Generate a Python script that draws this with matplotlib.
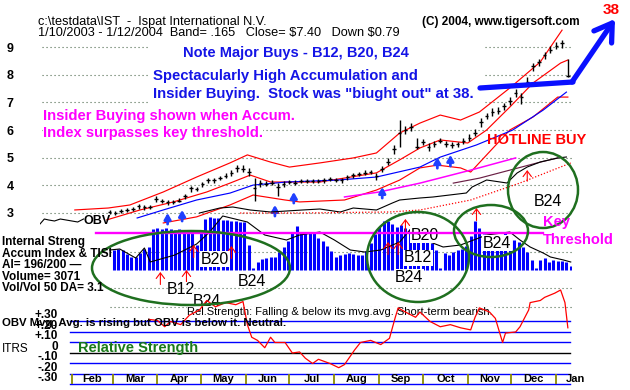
import numpy as np
import matplotlib
matplotlib.use("Agg")
import matplotlib.pyplot as plt
from matplotlib.patches import Ellipse

plt.rcParams['font.family'] = ['Liberation Sans', 'DejaVu Sans']

# ---------------- data (days counted from 1/10/2003) ----------------
bar_days = np.arange(48, 365, 4)
close = [3.04, 3.00, 3.08, 3.12, 3.15, 3.25, 3.20, 3.22,
         3.50, 3.45, 3.38, 3.40, 3.45, 3.60, 3.90, 3.85, 4.05, 4.20,
         4.18, 4.26, 4.35, 4.45, 4.63, 4.60, 4.50, 3.90, 4.08, 4.05,
         4.10, 3.95, 4.05, 4.12, 4.10, 4.15, 4.16, 4.15, 4.16, 4.18,
         4.22, 4.20, 4.19, 4.30, 4.37, 4.42, 4.45, 4.48, 4.35, 4.60,
         4.85, 5.30, 5.90, 6.00, 6.10, 5.40, 5.55, 5.40, 5.50, 5.62,
         5.50, 5.45, 5.48, 5.60, 5.72, 5.90, 6.30, 6.50, 6.65, 6.70,
         6.85, 7.05, 7.35, 7.20, 7.75, 8.30, 8.45, 8.70, 8.90, 9.05,
         9.15, 7.95]
high = [3.10, 3.08, 3.14, 3.18, 3.22, 3.32, 3.28, 3.30,
        3.60, 3.52, 3.46, 3.48, 3.55, 3.70, 3.98, 3.95, 4.12, 4.28,
        4.26, 4.34, 4.45, 4.55, 4.75, 4.72, 4.62, 4.25, 4.18, 4.14,
        4.18, 4.08, 4.14, 4.20, 4.18, 4.22, 4.24, 4.22, 4.24, 4.26,
        4.30, 4.28, 4.27, 4.38, 4.45, 4.50, 4.54, 4.56, 4.45, 4.70,
        4.98, 5.45, 6.35, 6.15, 6.25, 5.70, 5.66, 5.52, 5.60, 5.72,
        5.60, 5.56, 5.58, 5.72, 5.85, 6.05, 6.42, 6.62, 6.80, 6.82,
        6.98, 7.18, 7.48, 7.34, 7.90, 8.42, 8.56, 8.82, 9.02, 9.18,
        9.25, 8.55]
low = [2.98, 2.94, 3.00, 3.05, 3.08, 3.15, 3.12, 3.15,
       3.40, 3.36, 3.30, 3.32, 3.38, 3.50, 3.75, 3.78, 3.95, 4.10,
       4.08, 4.18, 4.26, 4.35, 4.50, 4.50, 4.35, 3.45, 3.95, 3.96,
       4.00, 3.60, 3.95, 4.04, 4.02, 4.08, 4.08, 4.07, 4.08, 4.10,
       4.14, 4.12, 4.10, 4.20, 4.28, 4.33, 4.37, 4.40, 4.20, 4.48,
       4.75, 5.15, 5.40, 5.85, 5.95, 5.30, 5.45, 5.25, 5.40, 5.52,
       5.40, 5.35, 5.38, 5.50, 5.60, 5.78, 6.10, 6.38, 6.52, 6.58,
       6.72, 6.92, 7.20, 6.95, 7.60, 8.15, 8.32, 8.58, 8.78, 8.92,
       8.95, 7.90]

upper_days = [24, 47, 62, 85, 108, 131, 143, 159, 172, 193, 216, 232, 248, 262, 276, 290, 303, 324, 345, 360]
upper_vals = [3.11, 3.18, 3.29, 3.76, 4.30, 4.81, 5.10, 4.84, 4.66, 4.81, 4.99, 5.17, 5.89, 6.25, 6.54, 6.36, 6.65, 7.52, 8.46, 9.61]
mid_days = [46, 69, 92, 115, 131, 145, 159, 193, 232, 248, 262, 276, 295, 308, 324, 340, 359, 364]
mid_vals = [2.75, 3.11, 3.40, 3.76, 4.08, 4.37, 4.12, 4.12, 4.45, 4.92, 5.35, 5.64, 5.53, 6.00, 6.83, 7.70, 8.42, 8.53]
lower_days = [85, 108, 131, 147, 169, 179, 210, 232, 248, 262, 274, 290, 297, 308, 324, 340, 357, 364]
lower_vals = [2.64, 2.86, 3.29, 3.65, 3.47, 3.40, 3.47, 3.83, 4.19, 4.63, 4.73, 4.63, 4.48, 5.10, 6.00, 6.47, 7.19, 7.19]
ma_days = [67, 85, 108, 131, 147, 170, 205, 232, 262, 276, 301, 326, 347, 363]
ma_vals = [2.82, 3.11, 3.47, 3.72, 4.01, 4.12, 4.19, 4.30, 4.66, 5.02, 5.46, 6.00, 6.72, 7.37]
ma2_days = [210, 234, 262, 297, 328]
ma2_vals = [3.58, 3.76, 4.08, 4.55, 4.99]
ma3_days = [285, 303, 324, 345, 357]
ma3_vals = [4.08, 4.26, 4.55, 4.84, 4.99]

obv_days_a = [0, 3, 6, 10, 14, 18, 22, 26, 30]
obv_vals_a = [2, 4.5, 4, 3.5, 4.5, 4, 3.5, 3, 4.5]
obv_days_b = [110, 124, 133, 145, 159, 181, 193, 207, 216, 232, 243, 248, 262, 271, 294, 298, 308, 322, 329, 336, 345, 357, 363]
obv_vals_b = [7.5, 10, 10.5, 9, 8, 9, 9.5, 8, 10, 9, 12.5, 14, 15, 15.5, 17.5, 20.5, 24, 22.5, 27.5, 30.5, 33, 35, 35.5]
obv_ma_days = [138, 179, 241, 262, 297, 331, 366]
obv_ma_vals = [7.5, 7.5, 8, 9, 14, 22.5, 32.5]

buy_days = [88, 98, 162, 175, 236, 274, 283]
buy_tips = [3.00, 3.11, 3.29, 3.76, 3.94, 5.02, 5.10]
price_red_arrow_day = [336]
price_red_arrow_tip = [4.55]

ai_days = np.arange(51, 367, 3)
ai_vals = [.20, .21, .20, .16, .13, .13, .17, .21, .23, .41,
           .42, .41, .42, .41, .40, .41, .40, .39, .37, .25,
           .40, .51, .53, .52, .52, .50, .50, .49, .49, .48,
           .48, .25, .02, .08, .11, .12, .13, .13, .18, .23,
           .29, .38, .44, .38, .37, .37, .38, .32, .29, .24,
           .19, .13, .15, .16, .17, .16, .15, .15, .19, .27,
           .36, .43, .49, .49, .46, .43, .45, .42, .41, .38,
           .34, .30, .29, .27, .20, .02, .17, .15, .18, .20,
           .21, .24, .34, .49, .42, .36, .35, .35, .35, .35,
           .37, .34, .30, .28, .23, .18, .10, .02, .10, .12,
           .08, .10, .09, .09, .08, .04]
ai_threshold = 0.37
tisi_days = [48, 55, 66, 72, 76, 93, 108, 117, 126, 143, 155, 170, 179, 193, 203, 214, 224, 235, 248, 255, 269, 278, 290, 308, 324, 331, 338, 347, 352, 361, 366]
tisi_vals = [.20, .21, .12, .22, .08, .15, .26, .38, .54, .48, .35, .30, .35, .38, .30, .20, .18, .20, .28, .40, .28, .23, .25, .35, .38, .30, .23, .17, .13, .10, .08]
ai_arrow_days = [83, 101, 106, 132, 240, 247, 252, 301]
ai_arrow_tips = [-0.02, 0.0, 0.25, 0.24, 0.28, 0.28, 0.51, 0.62]

rs_days = [75, 81, 86, 90, 97, 103, 110, 115, 121, 128,
           135, 140, 143, 146, 150, 155, 159, 162, 169, 174,
           179, 183, 188, 192, 200, 206, 210, 217, 221, 228,
           235, 241, 245, 247, 252, 259, 262, 269, 276, 283,
           290, 297, 300, 303, 310, 314, 319, 321, 328, 331,
           337, 338, 345, 348, 355, 359, 362, 364]
rs_vals = [.32, .31, .25, .30, .27, .36, .41, .50, .44, .48,
           .46, .49, .27, .15, .12, .05, .15, .10, .10, .00,
           .01, -.05, -.10, -.06, -.10, -.14, -.11, .03, .10, .12,
           .08, .14, .34, .43, .39, .34, .39, .30, .25, .27,
           .24, .22, .34, .43, .39, .33, .10, .19, .20, .25,
           .41, .48, .50, .53, .57, .60, .48, .24]
rs_levels = [0.3, 0.2, 0.1, 0.0, -0.1, -0.2, -0.3]
rs_labels = ['+.30', '+.20', '+.10', '0', '-.10', '-.20', '-.30']
month_names = ['Feb', 'Mar', 'Apr', 'May', 'Jun', 'Jul', 'Aug', 'Sep', 'Oct', 'Nov', 'Dec', 'Jan']
month_starts = [22, 50, 81, 111, 142, 172, 203, 234, 264, 295, 325, 356]
price_ticks = [3, 4, 5, 6, 7, 8, 9]

# ---------------- figure ----------------
W, H = 630, 390
fig = plt.figure(figsize=(6.3, 3.9), dpi=100)
fig.patch.set_facecolor('white')
X0, X1 = 40, 572.2
XL = (0, 367)


def px_axes(y0, y1, z):
    a = fig.add_axes([X0 / W, 1 - y1 / H, (X1 - X0) / W, (y1 - y0) / H], zorder=z)
    a.set_xlim(*XL)
    a.patch.set_alpha(0)
    for s in a.spines.values():
        s.set_visible(False)
    a.set_xticks([])
    a.set_yticks([])
    return a


ov = fig.add_axes([0, 0, 1, 1], zorder=10)
ov.set_xlim(0, W)
ov.set_ylim(H, 0)
ov.axis('off')
ov.patch.set_alpha(0)

ax_p = px_axes(0, 228, 1)
ax_p.set_ylim(2.4578, 10.699)
ax_obv = px_axes(0, 228, 1.1)
ax_obv.set_ylim(0, 114)
ax_a = px_axes(200, 285, 2)
ax_a.set_ylim(-0.15, 0.70)
ax_r = px_axes(286, 390, 3)
ax_r.set_ylim(-0.3524, 0.638)

dot = (0, (1, 2.6))
gcol = '#4f6a4f'

# price panel
ax_p.set_yticks(price_ticks)
ax_p.set_yticklabels([str(t) for t in price_ticks], fontsize=9, fontweight='bold')
ax_p.tick_params(axis='y', length=0, pad=19)
for v in price_ticks:
    if v >= 7:
        ax_p.axhline(v, xmin=-0.004, xmax=0.207, color=gcol, ls=dot, lw=0.8)
        ax_p.axhline(v, xmin=0.836, xmax=1.0, color=gcol, ls=dot, lw=0.8)
    else:
        ax_p.axhline(v, xmin=-0.004, xmax=1.0, color=gcol, ls=dot, lw=0.8)

ax_p.plot(upper_days, upper_vals, color='#ff0000', lw=0.85)
ax_p.plot(mid_days, mid_vals, color='#ff0000', lw=0.85)
ax_p.plot(lower_days, lower_vals, color='#ff0000', lw=0.85)
ax_p.plot(ma_days, ma_vals, color='#0000ff', lw=0.85)
ax_p.plot(ma2_days, ma2_vals, color='#ff00ff', lw=1.1)
ax_p.plot(ma3_days, ma3_vals, color='#6a1f45', lw=0.85)

ax_p.vlines(bar_days, low, high, color='black', lw=1.0, zorder=3)
ax_p.hlines(close, bar_days - 1.2, bar_days + 1.2, color='black', lw=1.0, zorder=3)

for d, t in zip(buy_days, buy_tips):
    ax_p.annotate('', xy=(d, t), xytext=(0, -8), textcoords='offset points',
                  arrowprops=dict(arrowstyle='-|>,head_width=0.4,head_length=0.7',
                                  color='#2040ff', lw=2.0, mutation_scale=5,
                                  shrinkA=0, shrinkB=0), zorder=4)
for d, t in zip(price_red_arrow_day, price_red_arrow_tip):
    ax_p.annotate('', xy=(d, t), xytext=(0, -8), textcoords='offset points',
                  arrowprops=dict(arrowstyle='->,head_width=0.3,head_length=0.4',
                                  color='red', lw=0.8, mutation_scale=10,
                                  shrinkA=0, shrinkB=0), zorder=4)

ax_obv.plot(obv_days_a, obv_vals_a, color='black', lw=0.8)
ax_obv.plot(obv_days_b, obv_vals_b, color='black', lw=0.8)
ax_obv.plot(obv_ma_days, obv_ma_vals, color='red', ls=(0, (1, 1.5)), lw=0.9)

# accumulation index panel
ax_a.axhline(0.18, xmin=(110 - X0) / (X1 - X0), xmax=1.0, color=gcol, ls=dot, lw=0.8, zorder=0.5)
ax_a.vlines(ai_days, 0, ai_vals, color='#0000ff', lw=2.2, zorder=1)
ax_a.plot(tisi_days, tisi_vals, color='black', lw=0.8, zorder=2)
for d, t in zip(ai_arrow_days, ai_arrow_tips):
    ax_a.annotate('', xy=(d, t), xytext=(0, -9), textcoords='offset points',
                  arrowprops=dict(arrowstyle='->,head_width=0.3,head_length=0.4',
                                  color='red', lw=0.8, mutation_scale=10,
                                  shrinkA=0, shrinkB=0), zorder=3)
for lab, x, y in [('B20', 215, 259), ('B12', 181, 290), ('B24', 207, 301), ('B24', 252, 281),
                  ('B20', 425, 235), ('B12', 418, 258), ('B24', 409, 277), ('B24', 497, 243)]:
    ax_a.text(x, y, lab, transform=ov.transData, fontsize=11.5, ha='center', va='center',
              zorder=4, bbox=dict(facecolor='white', edgecolor='none', pad=0.3))
ax_a.axhline(ai_threshold, xmin=(96 - X0) / (X1 - X0), xmax=(543 - X0) / (X1 - X0),
             color='#ff00ff', lw=1.7, zorder=5)

# relative strength panel
for lv in rs_levels:
    ax_r.axhline(lv, xmin=30 / (X1 - X0), xmax=530 / (X1 - X0),
                 color='black' if lv == 0 else '#0000ff', lw=1.0, zorder=1)
ax_r.axhline(0.62, xmin=(110 - X0) / (X1 - X0), xmax=1.0, color=gcol, ls=dot, lw=0.8, zorder=0.5)
ax_r.axhline(0.44, xmin=(110 - X0) / (X1 - X0), xmax=1.0, color=gcol, ls=dot, lw=0.8, zorder=0.5)
ax_r.set_yticks(rs_levels)
ax_r.set_yticklabels(rs_labels, fontsize=8.5, fontweight='bold')
ax_r.tick_params(axis='y', length=0, pad=-13)
for t in ax_r.get_yticklabels():
    t.set_va('bottom')
ax_r.vlines(month_starts, -0.3, -0.2, color='#8b8b00', lw=1.3, zorder=2)
mids = [(a + b) / 2 for a, b in zip(month_starts, month_starts[1:] + [382])]
for name, m in zip(month_names, mids):
    ax_r.text(m, -0.25, name, fontsize=8, fontweight='bold', ha='center', va='center', zorder=3)
ax_r.text(187, 312, 'Rel.Strength: Falling & below its mvg.avg. Short-term bearish.',
          transform=ov.transData, fontsize=8, ha='left', va='center', zorder=3,
          bbox=dict(facecolor='white', edgecolor='none', pad=0.2))
ax_r.plot(rs_days, rs_vals, color='#ff0000', lw=0.9, zorder=4)

# ---------------- annotations (pixel overlay) ----------------
blue = '#1414e6'
mag = '#ff00ff'
ov.text(38, 21.5, 'c:\\testdata\\IST  -  Ispat International N.V.', fontsize=9.2, ha='left', va='center')
ov.text(38, 33, '1/10/2003 - 1/12/2004  Band= .165   Close= \\$7.40   Down \\$0.79', fontsize=9.2,
        ha='left', va='center')
ov.text(422, 22.5, '(C) 2004, www.tigersoft.com', fontsize=8.5, fontweight='bold', ha='left', va='center')
ov.text(611, 10, '38', fontsize=11, fontweight='bold', color='red', ha='center', va='center')
ov.text(183, 53, 'Note Major Buys - B12, B20, B24', fontsize=10.5, fontweight='bold', color=blue, va='center')
ov.text(153, 76, 'Spectacularly High Accumulation and', fontsize=10.7, fontweight='bold', color=blue, va='center')
ov.text(153, 94, 'Insider Buying.  Stock was "biught out" at 38.', fontsize=10.7, fontweight='bold', color=blue,
        va='center')
ov.text(43, 116, 'Insider Buying shown when Accum.', fontsize=10.6, fontweight='bold', color=mag, va='center')
ov.text(43, 133, 'Index surpasses key threshold.', fontsize=10.6, fontweight='bold', color=mag, va='center',
        bbox=dict(facecolor='white', edgecolor='none', pad=0.3))
ov.text(487, 140, 'HOTLINE BUY', fontsize=10.5, fontweight='bold', color='red', va='center')
ov.text(548, 202, 'B24', fontsize=11.5, ha='center', va='center')
ov.text(543, 222, 'Key', fontsize=10.5, fontweight='bold', color=mag, va='center')
ov.text(543, 240, 'Threshold', fontsize=10.5, fontweight='bold', color=mag, va='center')
ov.text(83, 221, 'OBV', fontsize=9, fontweight='bold', va='center')
for txt, y in [('Internal Streng', 242), ('Accum Index & TISI', 254), ('AI= 196/200 \u2014', 265),
               ('Volume= 3071', 277), ('Vol/Vol 50 DA= 3.1', 288)]:
    ov.text(2, y, txt, fontsize=8.5, fontweight='bold', va='center')
ov.text(2, 323, 'OBV Mvg. Avg. is rising but OBV is below it. Neutral.', fontsize=8.2, fontweight='bold',
        va='center')
ov.text(2, 349, 'ITRS', fontsize=8.5, va='center')
ov.text(78, 348, 'Relative Strength', fontsize=10.5, fontweight='bold', color='#1a7a1a', va='center')

green = '#1f6f1f'
for (cx, cy, w, h) in [(191, 268, 198, 74), (418, 257, 102, 90), (491, 231, 74, 52), (543, 190, 70, 76)]:
    ov.add_patch(Ellipse((cx, cy), w, h, fill=False, ec=green, lw=1.8))

arrow_blue = '#0a10ff'
ov.plot([480, 573], [88, 82], color=arrow_blue, lw=3.8, solid_capstyle='round')
ov.annotate('', xy=(615, 19), xytext=(572, 82),
            arrowprops=dict(arrowstyle='->,head_length=0.55,head_width=0.35', lw=3.8,
                            color=arrow_blue, mutation_scale=22, shrinkA=0, shrinkB=0))

fig.savefig('out.png', dpi=100, facecolor='white')
